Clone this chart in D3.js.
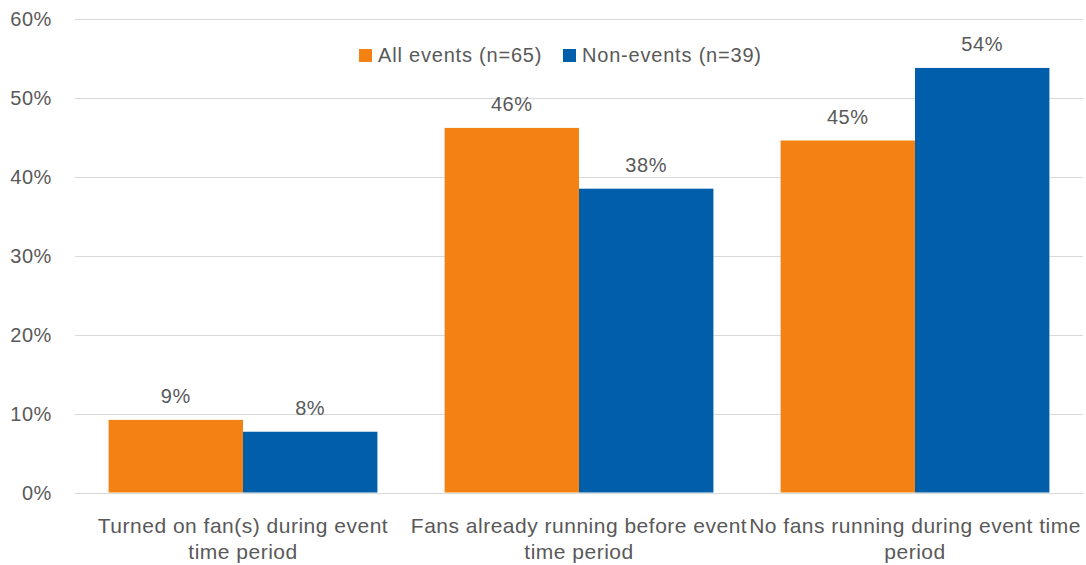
<!DOCTYPE html>
<html><head><meta charset="utf-8">
<script src="https://cdn.jsdelivr.net/npm/d3@7"></script>
<style>body{margin:0;background:#fff}svg{display:block}text{font-family:"Liberation Sans",Arial,sans-serif;fill:#595959}</style>
</head><body><svg id="c" width="1086" height="565"></svg>
<script>
const categories = [
  ["Turned on fan(s) during event", "time period"],
  ["Fans already running before event", "time period"],
  ["No fans running during event time", "period"]
];
const seriesNames = ["All events (n=65)", "Non-events (n=39)"];
const allEvents = [0.092, 0.462, 0.446];
const nonEvents = [0.077, 0.385, 0.538];
const labelsAll = ["9%", "46%", "45%"];
const labelsNon = ["8%", "38%", "54%"];
const yTicks = [0, 0.1, 0.2, 0.3, 0.4, 0.5, 0.6];
const colors = ["#F38113", "#015EAB"];

const svg = d3.select("#c");
const m = {l: 75, r: 3};
const W = 1086;
const x0 = d3.scaleBand().domain(d3.range(categories.length)).range([m.l, W - m.r]);
const y = d3.scaleLinear().domain([0, 0.6]).range([492.5, 19]);

// gridlines
svg.append("g").selectAll("line").data(yTicks).join("line")
  .attr("x1", m.l).attr("x2", W - m.r)
  .attr("y1", d => Math.round(y(d)) + 0.5).attr("y2", d => Math.round(y(d)) + 0.5)
  .attr("stroke", "#d9d9d9").attr("stroke-width", 1);

// y tick labels
svg.append("g").selectAll("text").data(yTicks).join("text")
  .attr("x", 52).attr("y", d => y(d)).attr("dy", "0.35em")
  .attr("text-anchor", "end").style("font-size", "20px").style("letter-spacing", "0.6px")
  .text(d => d3.format(".0%")(d));

// bars
const bw = x0.bandwidth() * 0.8 / 2;
const series = [allEvents, nonEvents];
const labels = [labelsAll, labelsNon];
series.forEach((vals, si) => {
  const g = svg.append("g");
  g.selectAll("rect").data(vals).join("rect")
    .attr("x", (d, i) => x0(i) + x0.bandwidth() * 0.1 + si * bw)
    .attr("width", bw)
    .attr("y", d => y(d)).attr("height", d => y(0) - y(d))
    .attr("fill", colors[si]);
  g.selectAll("text").data(vals).join("text")
    .attr("x", (d, i) => x0(i) + x0.bandwidth() * 0.1 + si * bw + bw / 2)
    .attr("y", d => y(d) - 24).attr("dy", "0.35em")
    .attr("text-anchor", "middle").style("font-size", "20px").style("letter-spacing", "0.6px")
    .text((d, i) => labels[si][i]);
});

// category labels
categories.forEach((lines, i) => {
  lines.forEach((ln, j) => svg.append("text").attr("text-anchor", "middle")
    .style("font-size", "21px").style("letter-spacing", "0.5px")
    .attr("x", x0(i) + x0.bandwidth() / 2).attr("y", 526 + j * 26).attr("dy", "0.35em").text(ln));
});

// legend
const leg = svg.append("g");
const legX = [359, 563];
seriesNames.forEach((n, i) => {
  leg.append("rect").attr("x", legX[i]).attr("y", 49).attr("width", 13).attr("height", 13).attr("fill", colors[i]);
  leg.append("text").attr("x", legX[i] + 19).attr("y", 55).attr("dy", "0.35em")
    .style("font-size", "20px").style("letter-spacing", "0.8px").text(n);
});
</script></body></html>
